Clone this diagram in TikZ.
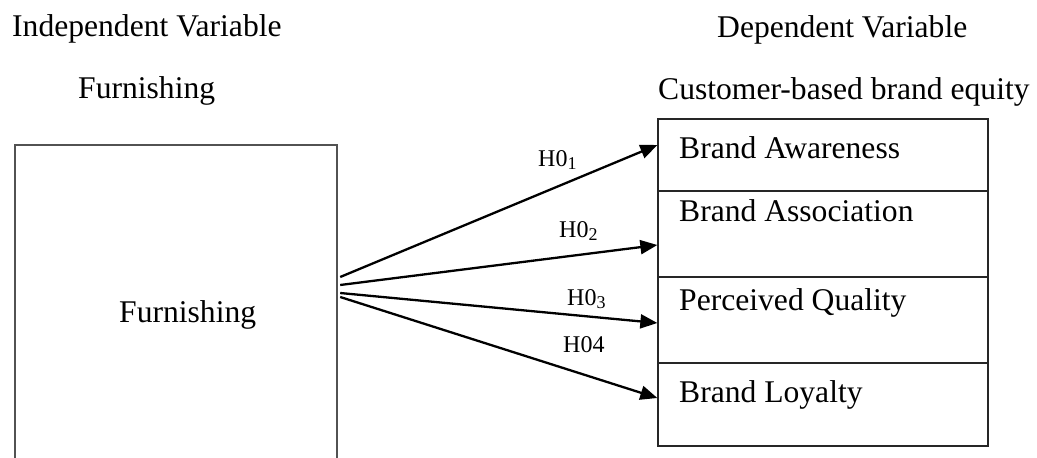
\documentclass[tikz,border=0pt]{standalone}
\usepackage{fontspec}
\setmainfont{Liberation Serif}
\usetikzlibrary{arrows.meta,calc}

\tikzset{
  bigtext/.style={font=\fontsize{31.6}{38}\selectfont, inner sep=0pt},
  hyptext/.style={font=\fontsize{24}{29}\selectfont, inner sep=0pt},
  cellbox/.style={draw=black!85, line width=1.3pt, minimum width=330pt, inner sep=0pt},
  leftbox/.style={draw=black!68, line width=1.6pt},
  hyparrow/.style={line width=2.3pt, -{Triangle[length=17pt,width=14pt]}},
}

\begin{document}
\begin{tikzpicture}[x=1pt, y=-1pt]
			%%%%% START %%%%%
			\useasboundingbox (0,0) rectangle (1037,458);
			
			\node[bigtext, anchor=base west] (indephead) at (12,36) {Independent Variable};
			\node[bigtext, anchor=base west] (furnhead) at (78,98) {Furnishing};
			\node[bigtext, anchor=base west] (dephead) at (717,37) {Dependent Variable};
			\node[bigtext, anchor=base west] (cbbehead) at (658,99) {Customer-based brand equity};
			
			% independent box, open at the bottom
			\node[minimum width=322pt, minimum height=313pt, inner sep=0pt] (indep) at (176,301.5) {};
			\draw[leftbox] (indep.south west) -- (indep.north west) -- (indep.north east) -- (indep.south east);
			\node[bigtext, anchor=base west] (furn) at (119,322) {Furnishing};
			
			% dependent box
			\node[cellbox, minimum height=72pt] (aware) at (823,155) {};
			\node[cellbox, minimum height=86pt] (assoc) at (823,234) {};
			\node[cellbox, minimum height=86pt] (qual) at (823,320) {};
			\node[cellbox, minimum height=83pt] (loyal) at (823,404.5) {};
			
			\node[bigtext, anchor=base west] (awaretxt) at (679,158) {Brand Awareness};
			\node[bigtext, anchor=base west] (assoctxt) at (679,221) {Brand Association};
			\node[bigtext, anchor=base west] (qualtxt) at (679,310) {Perceived Quality};
			\node[bigtext, anchor=base west] (loyaltxt) at (679,402) {Brand Loyalty};
			
			\coordinate (s1) at ($(indep.east)+(3,-24.5)$);
			\coordinate (s2) at ($(indep.east)+(3,-16.5)$);
			\coordinate (s3) at ($(indep.east)+(3,-8.5)$);
			\coordinate (s4) at ($(indep.east)+(3,-4.5)$);
			\coordinate (t1) at ($(aware.west)+(0,-10)$);
			\coordinate (t2) at ($(assoc.west)+(0,11)$);
			\coordinate (t3) at ($(qual.west)+(0,3)$);
			\coordinate (t4) at ($(loyal.west)+(0,-6.5)$);
			
			\draw[hyparrow] (s1) -- (t1);
			\draw[hyparrow] (s2) -- (t2);
			\draw[hyparrow] (s3) -- (t3);
			\draw[hyparrow] (s4) -- (t4);
			
			\node[hyptext, anchor=base west] (h1) at (538,166) {H0\raisebox{-0.28ex}{\fontsize{18}{20}\selectfont 1}};
			\node[hyptext, anchor=base west] (h2) at (559,237) {H0\raisebox{-0.28ex}{\fontsize{18}{20}\selectfont 2}};
			\node[hyptext, anchor=base west] (h3) at (567,305) {H0\raisebox{-0.28ex}{\fontsize{18}{20}\selectfont 3}};
			\node[hyptext, anchor=base west] (h4) at (563,352) {H04};
			
			%%%%% END %%%%%
\end{tikzpicture}
\end{document}
